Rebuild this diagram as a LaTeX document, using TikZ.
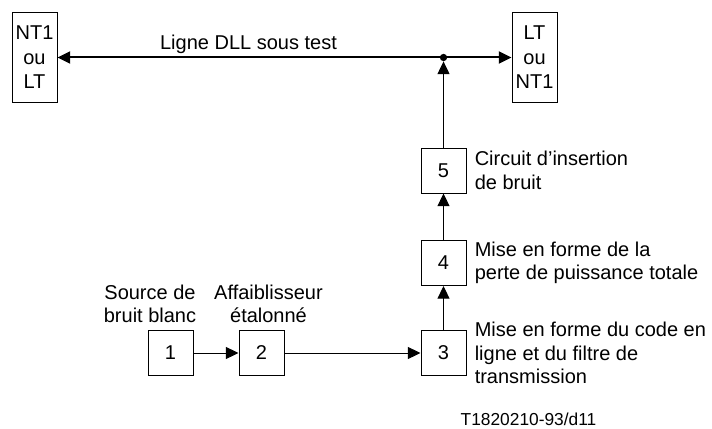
\documentclass[tikz,border=0pt]{standalone}
\usepackage{fontspec}
\setmainfont{Liberation Sans}
\usetikzlibrary{arrows.meta,positioning}

\begin{document}
\begin{tikzpicture}[x=0.75pt, y=-0.75pt, >={Triangle[length=9.5pt,width=9pt]},
        bloc/.style={draw, line width=0.75pt, minimum width=33.75pt, minimum height=33.75pt,
            inner sep=0pt, font=\fontsize{15}{17.5}\selectfont},
        terminal/.style={draw, line width=0.75pt, minimum width=33.75pt, minimum height=66.75pt,
            inner sep=0pt, align=center, font=\fontsize{15}{18.4}\selectfont},
        legende/.style={inner sep=0pt, align=left, font=\fontsize{15}{17.5}\selectfont},
        fleche/.style={line width=0.75pt, ->}]

        % Cadre de la figure (proportions de l'original)
        \useasboundingbox (0,0) rectangle (712,428);

        % ==============================================================
        % 1. EXTREMITES DE LA LIGNE DLL
        % ==============================================================
        \node[terminal] (NTg) at (34.5,57.5)  {NT1\\ou\\LT};
        \node[terminal] (NTd) at (534.5,57.5) {LT\\ou\\NT1};

        % Point de jonction du bruit injecte
        \node[circle, fill, inner sep=0pt, minimum size=5.5pt] (J) at (443.5,57.5) {};

        % Ligne sous test (double fleche, trait epais)
        \draw[line width=1.5pt, <->] (NTg) -- (NTd);
        \node[legende, anchor=base] (Ligne) at (248.5,50) {Ligne DLL sous test};

        % ==============================================================
        % 2. CHAINE DE GENERATION DU BRUIT
        % ==============================================================
        \node[bloc] (B1) at (170.5,353) {1};
        \node[bloc] (B2) at (261.5,353) {2};
        \node[bloc] (B3) at (443.5,353) {3};
        \node[bloc] (B4) at (443.5,263) {4};
        \node[bloc] (B5) at (443.5,170.5) {5};

        % Liaisons entre blocs
        \draw[fleche] (B1) -- (B2);
        \draw[fleche] (B2) -- (B3);
        \draw[fleche] (B3) -- (B4);
        \draw[fleche] (B4) -- (B5);
        \draw[fleche] (B5) -- (J);

        % ==============================================================
        % 3. LEGENDES DES BLOCS
        % ==============================================================
        \node[legende, align=center, anchor=south] (L1) at (150,323) {Source de\\bruit blanc};
        \node[legende, align=center, anchor=south] (L2) at (268.5,323) {Affaiblisseur\\étalonné};
        \node[legende, right=6pt of B3] (L3) {Mise en forme du code en\\ligne et du filtre de\\transmission};
        \node[legende, right=6pt of B4] (L4) {Mise en forme de la\\perte de puissance totale};
        \node[legende, right=6pt of B5] (L5) {Circuit d’insertion\\de bruit};

        % Reference de la figure
        \node[inner sep=0pt, anchor=base, font=\fontsize{13}{15}\selectfont] (Ref) at (528.5,425) {T1820210-93/d11};
    \end{tikzpicture}
\end{document}
